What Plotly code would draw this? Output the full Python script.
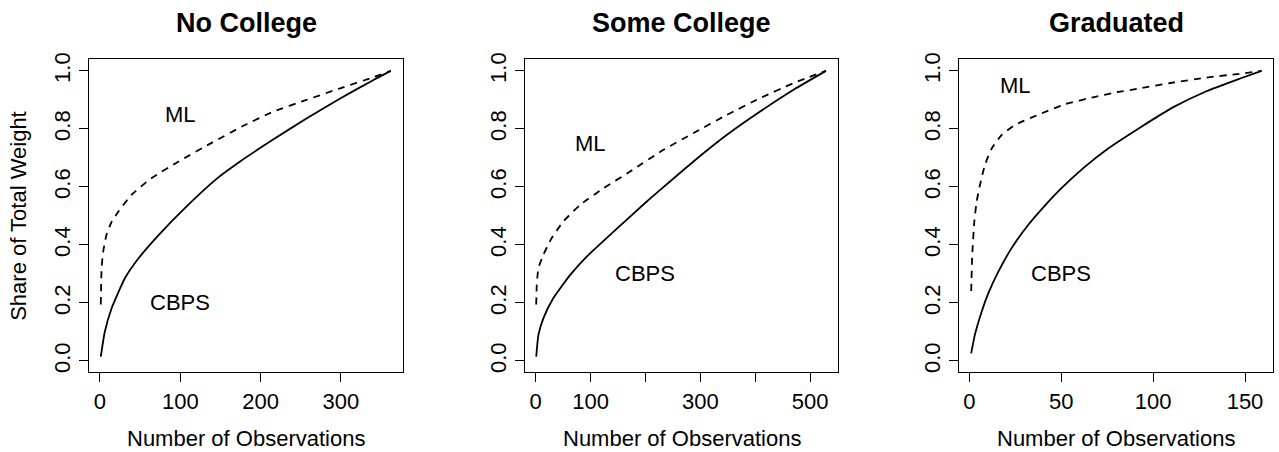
import plotly.graph_objects as go

# ---------------- data ----------------
panel_titles = ["No College", "Some College", "Graduated"]

# No College
nc_cbps_x = [1, 6, 14.5, 31, 48, 73, 106, 147, 174, 216, 257, 299, 340, 362]
nc_cbps_y = [0.015, 0.101, 0.182, 0.285, 0.354, 0.434, 0.528, 0.632, 0.687, 0.764, 0.836, 0.905, 0.968, 1.0]
nc_ml_x = [1, 2, 4, 8, 14.5, 23, 39, 64, 97.5, 139, 178, 216, 257, 299, 340, 362]
nc_ml_y = [0.195, 0.32, 0.377, 0.434, 0.48, 0.515, 0.572, 0.63, 0.687, 0.752, 0.81, 0.86, 0.9, 0.94, 0.978, 1.0]

# Some College
sc_cbps_x = [1, 5, 14, 32, 63, 93, 142, 202, 227, 287, 348, 409, 470, 529]
sc_cbps_y = [0.015, 0.09, 0.147, 0.216, 0.297, 0.36, 0.446, 0.549, 0.59, 0.687, 0.779, 0.86, 0.935, 1.0]
sc_ml_x = [1, 2, 5, 14, 29, 50, 81, 123, 172, 233, 287, 348, 409, 470, 529]
sc_ml_y = [0.195, 0.262, 0.32, 0.366, 0.423, 0.48, 0.538, 0.595, 0.653, 0.728, 0.785, 0.848, 0.906, 0.958, 1.0]

# Graduated
gr_cbps_x = [1, 3, 6.7, 10.3, 15.8, 23, 32, 41, 50, 62, 75, 93, 111, 129, 147, 159]
gr_cbps_y = [0.026, 0.09, 0.17, 0.233, 0.308, 0.389, 0.469, 0.535, 0.595, 0.665, 0.73, 0.805, 0.875, 0.93, 0.973, 1.0]
gr_ml_x = [1, 1.6, 2.7, 4, 5.8, 8.5, 12.2, 17.6, 25, 38, 52, 68, 79, 93, 111, 129, 147, 159]
gr_ml_y = [0.241, 0.366, 0.48, 0.55, 0.607, 0.676, 0.733, 0.779, 0.814, 0.85, 0.885, 0.91, 0.925, 0.94, 0.96, 0.977, 0.99, 1.0]

x_tickvals = [[0, 100, 200, 300], [0, 100, 200, 300, 400, 500], [0, 50, 100, 150]]
x_ticktext = [["0", "100", "200", "300"], ["0", "100", "", "300", "", "500"], ["0", "50", "100", "150"]]
y_tickvals = [0.0, 0.2, 0.4, 0.6, 0.8, 1.0]
y_ticktext = ["0.0", "0.2", "0.4", "0.6", "0.8", "1.0"]

label_ml = "ML"
label_cbps = "CBPS"
ml_label_pos = [(100, 0.85), (100, 0.75), (25, 0.95)]
cbps_label_pos = [(100, 0.2), (200, 0.3), (50, 0.3)]

x_axis_title = "Number of Observations"
y_axis_title = "Share of Total Weight"

# ---------------- layout geometry ----------------
W, H = 1279, 452
FONT = "Liberation Sans, Arial, Helvetica, sans-serif"
box_px = [(89.3, 403.3), (524.7, 838.3), (959.3, 1273.3)]
y_px = (59.3, 372.3)
x_ranges = [[-13.3, 377.6], [-20.0, 551.5], [-5.46, 165.4]]
y_range = [-0.039, 1.040]

series = [
    (nc_cbps_x, nc_cbps_y, nc_ml_x, nc_ml_y),
    (sc_cbps_x, sc_cbps_y, sc_ml_x, sc_ml_y),
    (gr_cbps_x, gr_cbps_y, gr_ml_x, gr_ml_y),
]

fig = go.Figure()
layout = dict(
    width=W, height=H,
    margin=dict(l=0, r=0, t=0, b=0),
    paper_bgcolor="white", plot_bgcolor="white",
    showlegend=False,
    font=dict(family=FONT, color="black", size=22),
)

annotations = []
for i, (cx, cy, mx, my) in enumerate(series):
    sfx = "" if i == 0 else str(i + 1)
    xa, ya = "x" + sfx, "y" + sfx
    fig.add_trace(go.Scatter(x=cx, y=cy, mode="lines", xaxis=xa, yaxis=ya,
                             line=dict(color="black", width=1.8, shape="spline", smoothing=0.5),
                             hoverinfo="skip"))
    fig.add_trace(go.Scatter(x=mx, y=my, mode="lines", xaxis=xa, yaxis=ya,
                             line=dict(color="black", width=1.8, dash="7px,6px", shape="spline", smoothing=0.5),
                             hoverinfo="skip"))
    x0, x1 = box_px[i]
    common = dict(showline=True, mirror=True, linecolor="black", linewidth=1.3,
                  ticks="outside", ticklen=9, tickwidth=1.3, tickcolor="black",
                  showgrid=False, zeroline=False, automargin=False,
                  tickfont=dict(family=FONT, size=22, color="black"))
    layout["xaxis" + sfx] = dict(domain=[x0 / W, x1 / W], range=x_ranges[i],
                                 tickmode="array", tickvals=x_tickvals[i], ticktext=x_ticktext[i],
                                 anchor=ya, **common)
    layout["yaxis" + sfx] = dict(domain=[1 - y_px[1] / H, 1 - y_px[0] / H], range=y_range,
                                 tickmode="array", tickvals=y_tickvals, ticktext=y_ticktext,
                                 tickangle=-90, anchor=xa, **common)
    # panel title
    annotations.append(dict(text="<b>" + panel_titles[i] + "</b>", xref="paper", yref="paper",
                            x=(x0 + x1) / 2 / W, y=1 - 23 / H, xanchor="center", yanchor="middle",
                            showarrow=False, font=dict(family=FONT, size=27, color="black")))
    # x axis title
    annotations.append(dict(text=x_axis_title, xref="paper", yref="paper",
                            x=(x0 + x1) / 2 / W, y=1 - 438 / H, xanchor="center", yanchor="middle",
                            showarrow=False, font=dict(family=FONT, size=22, color="black")))
    # curve labels
    annotations.append(dict(text=label_ml, xref=xa, yref=ya, x=ml_label_pos[i][0], y=ml_label_pos[i][1],
                            xanchor="center", yanchor="middle", showarrow=False,
                            font=dict(family=FONT, size=22, color="black")))
    annotations.append(dict(text=label_cbps, xref=xa, yref=ya, x=cbps_label_pos[i][0], y=cbps_label_pos[i][1],
                            xanchor="center", yanchor="middle", showarrow=False,
                            font=dict(family=FONT, size=22, color="black")))

annotations.append(dict(text=y_axis_title, xref="paper", yref="paper",
                        x=19 / W, y=1 - 215.8 / H, xanchor="center", yanchor="middle",
                        textangle=-90, showarrow=False, font=dict(family=FONT, size=22, color="black")))

layout["annotations"] = annotations
fig.update_layout(**layout)
fig.write_html("out.html")
